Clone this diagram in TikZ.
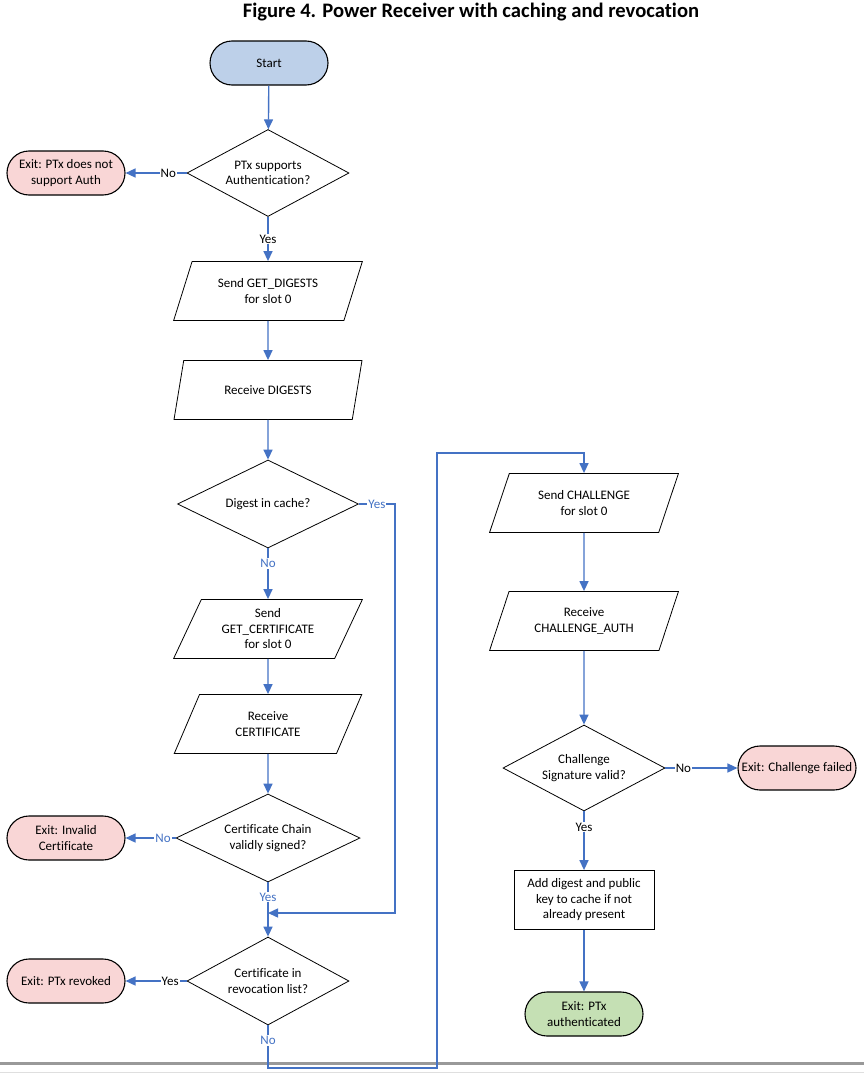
\documentclass[tikz,border=0pt]{standalone}
\usepackage{xcolor}
\usepackage{fontspec}
\setmainfont{Carlito}[Ligatures=NoCommon]
\usepackage{tikz}
\usetikzlibrary{shapes.geometric, arrows.meta}
\definecolor{flowblue}{RGB}{68,114,196}
\definecolor{startfill}{RGB}{189,208,233}
\definecolor{exitfill}{RGB}{249,214,214}
\definecolor{donefill}{RGB}{197,224,180}
\tikzset{
	txt/.style={font=\fontsize{13}{15.5}\selectfont, align=center},
	terminal/.style={txt, draw=black, line width=1.1pt, rounded corners=22pt, minimum width=118pt, minimum height=44pt, inner sep=2pt},
	decision/.style={txt, draw=black, line width=0.8pt, diamond, aspect=2, inner sep=0pt},
	inout/.style={txt, draw=black, line width=0.8pt, trapezium, trapezium left angle=65, trapezium right angle=115, trapezium stretches=true, minimum width=189pt, minimum height=59pt, inner sep=1pt},
	process/.style={txt, draw=black, line width=0.8pt, minimum width=140pt, minimum height=59pt},
	flow/.style={draw=flowblue, line width=1.4pt, -{Triangle[length=10pt,width=9pt]}},
	lbl/.style={txt, fill=white, inner sep=1pt, text=black},
	bluelbl/.style={lbl, text=flowblue}
}

\begin{document}
\begin{tikzpicture}[x=1pt, y=-1pt]
		\useasboundingbox (0,0) rectangle (864,1076);
		% title
		\node[font=\fontsize{20.6}{23}\selectfont\bfseries] (title) at (471,12) {Figure 4. Power Receiver with caching and revocation};
		% page rule
		\draw[gray!80, line width=3pt] (0,1063) -- (864,1063);
		\draw[gray!25, line width=1pt] (0,1072) -- (864,1072);
		% left column
		\node[terminal, fill=startfill] (start) at (269,63) {Start};
		\node[decision, minimum width=162pt, minimum height=87pt] (auth) at (268,173) {PTx supports\\Authentication?};
		\node[terminal, fill=exitfill] (noauth) at (66,173) {Exit: PTx does not\\support Auth};
		\node[inout] (getdig) at (268,291) {Send GET\_DIGESTS\\for slot 0};
		\node[inout] (recdig) at (268,390) {Receive DIGESTS};
		\node[decision, minimum width=181pt, minimum height=88pt] (incache) at (268,504) {Digest in cache?};
		\node[inout] (getcert) at (268,629) {Send\\GET\_CERTIFICATE\\for slot 0};
		\node[inout] (reccert) at (268,724) {Receive\\CERTIFICATE};
		\node[decision, minimum width=184pt, minimum height=88pt] (chain) at (268,838) {Certificate Chain\\validly signed?};
		\node[terminal, fill=exitfill] (badcert) at (66,838) {Exit: Invalid\\Certificate};
		\node[decision, minimum width=162pt, minimum height=88pt] (revoked) at (268,981) {Certificate in\\revocation list?};
		\node[terminal, fill=exitfill] (revexit) at (66,981) {Exit: PTx revoked};
		% right column
		\node[inout] (getchal) at (584,503) {Send CHALLENGE\\for slot 0};
		\node[inout] (recchal) at (584,621) {Receive\\CHALLENGE\_AUTH};
		\node[decision, minimum width=162pt, minimum height=86pt] (sigok) at (584,768) {Challenge\\Signature valid?};
		\node[terminal, fill=exitfill] (chalfail) at (797,768) {Exit: Challenge failed};
		\node[process] (addcache) at (584,900) {Add digest and public\\key to cache if not\\already present};
		\node[terminal, fill=donefill] (authed) at (584,1014) {Exit: PTx\\authenticated};
		% bend points
		\coordinate (cachebend) at (395,504);
		\coordinate (merge) at (268,913);
		\coordinate (revbottom) at (268,1068);
		\coordinate (loopbottom) at (437,1068);
		\coordinate (looptop) at (437,453);
		\coordinate (chaltop) at (584,453);
		% connectors
		\draw[flow] (start) -- (auth);
		\draw[flow] (auth) -- node[lbl, pos=0.3]{No} (noauth);
		\draw[flow] (auth) -- node[lbl]{Yes} (getdig);
		\draw[flow] (getdig) -- (recdig);
		\draw[flow] (recdig) -- (incache);
		\draw[flow] (incache.east) -- node[bluelbl]{Yes} (cachebend) |- (merge);
		\draw[flow] (incache) -- node[bluelbl, pos=0.3]{No} (getcert);
		\draw[flow] (getcert) -- (reccert);
		\draw[flow] (reccert) -- (chain);
		\draw[flow] (chain) -- node[bluelbl, pos=0.25]{No} (badcert);
		\draw[flow] (chain) -- node[bluelbl, pos=0.27]{Yes} (revoked);
		\draw[flow] (revoked) -- node[lbl, pos=0.27]{Yes} (revexit);
		\draw[flow] (revoked.south) -- node[bluelbl, pos=0.35]{No} (revbottom) -- (loopbottom) -- (looptop) -- (chaltop) -- (getchal);
		\draw[flow] (getchal) -- (recchal);
		\draw[flow] (recchal) -- (sigok);
		\draw[flow] (sigok) -- node[lbl, pos=0.25]{No} (chalfail);
		\draw[flow] (sigok) -- node[lbl, pos=0.27]{Yes} (addcache);
		\draw[flow] (addcache) -- (authed);
	\end{tikzpicture}
\end{document}
